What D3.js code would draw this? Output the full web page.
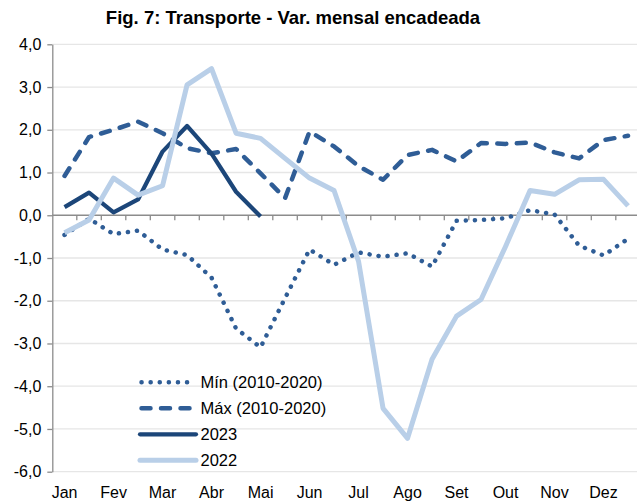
<!DOCTYPE html>
<html>
<head>
<meta charset="utf-8">
<script src="https://cdnjs.cloudflare.com/ajax/libs/d3/7.8.5/d3.min.js"></script>
<style>
  body { margin: 0; background: #fff; }
  svg { display: block; font-family: "Liberation Sans", Arial, sans-serif; }
</style>
</head>
<body>
<svg id="chart" width="637" height="504"></svg>
<script>
// month labels (one every two half-month periods)
const months = ["Jan","Fev","Mar","Abr","Mai","Jun","Jul","Ago","Set","Out","Nov","Dez"];
const periods = d3.range(24);
const yTicks = [-6,-5,-4,-3,-2,-1,0,1,2,3,4];

// series values
const minVals = [-0.46,-0.08,-0.44,-0.36,-0.80,-0.93,-1.46,-2.65,-3.09,-1.94,-0.80,-1.16,
                 -0.87,-0.97,-0.89,-1.20,-0.13,-0.11,-0.07,0.12,0.02,-0.71,-0.94,-0.55];
const maxVals = [0.92,1.83,2.00,2.19,1.92,1.57,1.45,1.55,0.98,0.40,1.96,1.61,
                 1.15,0.83,1.41,1.53,1.26,1.69,1.67,1.70,1.47,1.33,1.76,1.86];
const vals2023 = [0.19,0.53,0.07,0.37,1.49,2.09,1.44,0.55,-0.03,
                  null,null,null,null,null,null,null,null,null,null,null,null,null,null,null];
const vals2022 = [-0.41,-0.11,0.87,0.47,0.69,3.05,3.43,1.92,1.80,1.33,0.87,0.58,
                  -1.08,-4.52,-5.22,-3.37,-2.36,-1.97,-0.73,0.58,0.49,0.83,0.84,0.22];

const series = [
  {name: "Mín (2010-2020)", values: minVals, color: "#2f5d96", width: 4.5, dash: "0.1,9"},
  {name: "Máx (2010-2020)", values: maxVals, color: "#2f5d96", width: 4.5, dash: "9,10.5"},
  {name: "2023", values: vals2023, color: "#1c4679", width: 4.2, dash: null},
  {name: "2022", values: vals2022, color: "#b9cfe8", width: 5, dash: null}
];

const svg = d3.select("#chart");
const left = 52.3, right = 640.3;

const x = d3.scaleBand().domain(periods).range([left, right]);
const y = d3.scaleLinear().domain([-6, 4]).range([471.7, 44.3]);
const fmt = d => d.toFixed(1).replace(".", ",");

// title
svg.append("text")
  .attr("x", 293).attr("y", 24)
  .attr("text-anchor", "middle")
  .style("font-size", "18.5px").style("font-weight", "bold")
  .text("Fig. 7: Transporte - Var. mensal encadeada");

// gridlines
svg.append("g").selectAll("line")
  .data(yTicks.filter(d => d !== 0))
  .enter().append("line")
    .attr("x1", left).attr("x2", right)
    .attr("y1", d => y(d)).attr("y2", d => y(d))
    .style("stroke", "#e6e6e6").style("stroke-width", 1.3);

// y axis
const yAxis = svg.append("g")
  .attr("transform", `translate(${left},0)`)
  .call(d3.axisLeft(y).tickValues(yTicks).tickFormat(fmt).tickSize(5).tickSizeOuter(0).tickPadding(6));
yAxis.select(".domain").style("stroke", "#8c8c8c").style("stroke-width", 1.3);
yAxis.selectAll(".tick line").style("stroke", "#8c8c8c").style("stroke-width", 1.3);
yAxis.selectAll("text").style("font-size", "16px").style("fill", "#000")
  .style("font-family", "'Liberation Sans', Arial, sans-serif");

// x axis on the zero line, ticks between half-month periods
const xAxis = svg.append("g").attr("transform", `translate(0,${y(0)})`);
xAxis.append("line").attr("x1", left).attr("x2", right)
  .style("stroke", "#8c8c8c").style("stroke-width", 1.3);
xAxis.selectAll("line.tk")
  .data(periods.slice(1))
  .enter().append("line").attr("class", "tk")
    .attr("x1", d => x(d)).attr("x2", d => x(d))
    .attr("y1", 0).attr("y2", 5)
    .style("stroke", "#8c8c8c").style("stroke-width", 1.3);

// month labels at bottom
svg.append("g").selectAll("text")
  .data(months)
  .enter().append("text")
    .attr("x", (d, i) => x(i * 2) + x.bandwidth() / 2)
    .attr("y", 498)
    .attr("text-anchor", "middle")
    .style("font-size", "16px")
    .text(d => d);

// lines
const line = d3.line()
  .defined(d => d.v !== null)
  .x(d => x(d.i) + x.bandwidth() / 2)
  .y(d => y(d.v));

series.forEach(s => {
  svg.append("path")
    .datum(s.values.map((v, i) => ({i: i, v: v})))
    .attr("d", line)
    .style("fill", "none")
    .style("stroke", s.color)
    .style("stroke-width", s.width)
    .style("stroke-linecap", s.dash ? "round" : "butt")
    .style("stroke-linejoin", "round")
    .style("stroke-dasharray", s.dash);
});

// legend
const legend = svg.append("g");
series.forEach((s, k) => {
  const ly = 382.3 + k * 26;
  legend.append("line")
    .attr("x1", s.dash ? 141.5 : 140).attr("x2", s.dash ? 192 : 196)
    .attr("y1", ly).attr("y2", ly)
    .style("stroke", s.color)
    .style("stroke-width", s.width)
    .style("stroke-linecap", "round")
    .style("stroke-dasharray", s.dash);
  legend.append("text")
    .attr("x", 200.5).attr("y", ly)
    .attr("dy", "0.36em")
    .style("font-size", "16.5px")
    .text(s.name);
});
</script>
</body>
</html>
